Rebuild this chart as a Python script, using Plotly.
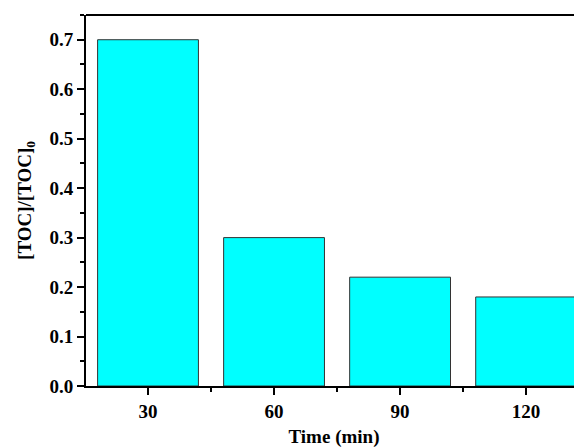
import plotly.graph_objects as go

times = [30, 60, 90, 120]
toc_ratio = [0.70, 0.30, 0.22, 0.18]
x_ticks = [30, 60, 90, 120]
y_ticks = [0.0, 0.1, 0.2, 0.3, 0.4, 0.5, 0.6, 0.7]

font_family = "Liberation Serif"
fs = 19

fig = go.Figure()
fig.add_trace(go.Bar(
    x=times, y=toc_ratio, width=24,
    marker=dict(color="#00FFFF", line=dict(color="#333333", width=1)),
))

fig.update_layout(
    width=574, height=440,
    margin=dict(l=78, r=0, t=7, b=62),
    paper_bgcolor="white", plot_bgcolor="white",
    showlegend=False,
    font=dict(family=font_family, color="black"),
    xaxis=dict(
        range=[15.24, 133.3],
        tickvals=x_ticks, ticktext=[f"<b>{t}</b>" for t in x_ticks],
        ticks="outside", ticklen=7, tickwidth=2, tickcolor="black",
        minor=dict(ticks="outside", ticklen=4, tickwidth=2, tickcolor="black", dtick=15, tick0=15),
        showline=True, linewidth=2, linecolor="black",
        showgrid=False, zeroline=False,
        tickfont=dict(size=fs, family=font_family),
        title=dict(text="<b>Time (min)</b>", font=dict(size=fs, family=font_family), standoff=9),
    ),
    yaxis=dict(
        range=[0, 0.75],
        tickvals=y_ticks, ticktext=[f"<b>{v:.1f}</b>" for v in y_ticks],
        ticks="outside", ticklen=7, tickwidth=2, tickcolor="black",
        minor=dict(ticks="outside", ticklen=4, tickwidth=2, tickcolor="black", dtick=0.05, tick0=0),
        showline=True, linewidth=2, linecolor="black",
        showgrid=False, zeroline=False,
        tickfont=dict(size=fs, family=font_family),
        title=dict(text="<b>[TOC]/[TOC]<sub>0</sub></b>", font=dict(size=fs, family=font_family), standoff=13),
    ),
    shapes=[dict(type="line", xref="paper", yref="paper", x0=0, x1=1, y0=1, y1=1,
                 line=dict(color="black", width=2))],
)

fig.write_html("out.html")
